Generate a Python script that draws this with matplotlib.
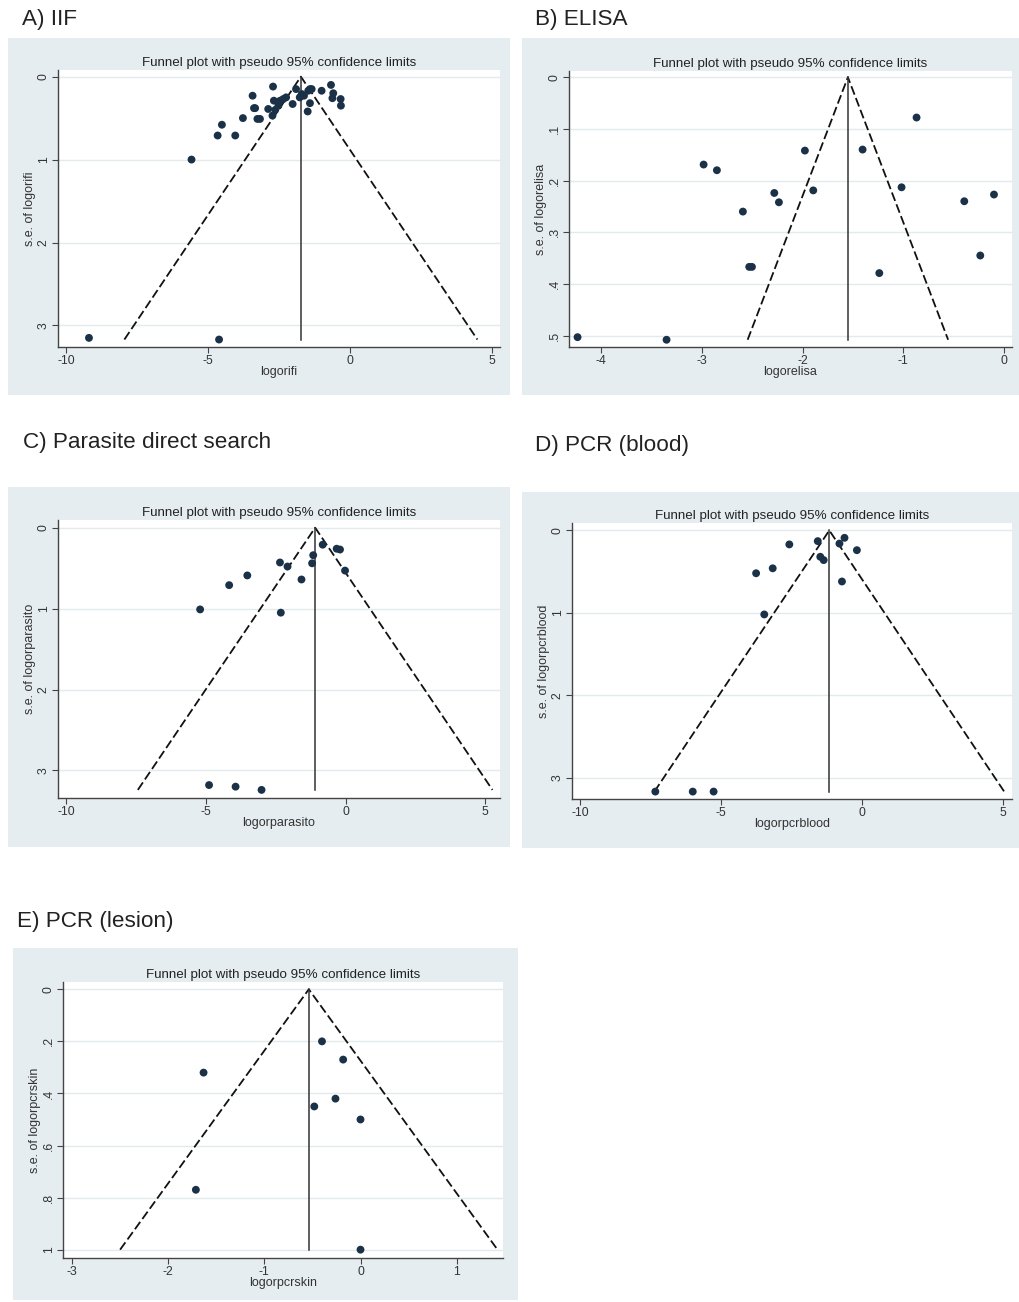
import matplotlib
matplotlib.use("Agg")
import matplotlib.pyplot as plt
from matplotlib.patches import Rectangle

plt.rcParams['font.family'] = ['Liberation Sans', 'DejaVu Sans']

W, H = 1020, 1302

# ----------------------------------
# Data
# ----------------------------------
iif_x = [-9.19, -4.61, -5.58, -4.66, -4.04, -4.51, -3.77, -3.26, -3.17, -3.38, -3.34,
         -3.43, -2.71, -2.88, -2.73, -2.68, -2.63, -2.52, -2.46, -2.35, -2.25, -2.02,
         -1.90, -1.77, -1.70, -1.62, -1.47, -1.41, -1.35, -1.41, -1.49, -1.00, -0.67,
         -0.59, -0.62, -0.33, -0.32]
iif_se = [3.15, 3.17, 1.00, 0.71, 0.71, 0.58, 0.50, 0.51, 0.51, 0.38, 0.38,
          0.23, 0.12, 0.39, 0.47, 0.29, 0.40, 0.35, 0.29, 0.27, 0.25, 0.33,
          0.15, 0.25, 0.21, 0.23, 0.17, 0.15, 0.15, 0.32, 0.42, 0.17, 0.10,
          0.20, 0.26, 0.27, 0.35]

elisa_x = [-4.235, -3.351, -2.983, -2.851, -2.593, -2.530, -2.503, -2.281, -2.235,
           -1.977, -1.894, -1.404, -1.238, -1.017, -0.868, -0.394, -0.235, -0.099]
elisa_se = [0.503, 0.508, 0.169, 0.180, 0.260, 0.367, 0.367, 0.224, 0.242,
            0.142, 0.219, 0.140, 0.379, 0.213, 0.078, 0.240, 0.345, 0.227]

paras_x = [-4.89, -3.94, -3.01, -5.21, -2.32, -4.17, -3.52, -2.35, -2.08, -1.58,
           -1.16, -1.20, -0.82, -0.32, -0.20, -0.02]
paras_se = [3.18, 3.20, 3.24, 1.01, 1.05, 0.71, 0.59, 0.43, 0.48, 0.64,
            0.34, 0.44, 0.21, 0.26, 0.27, 0.53]

blood_x = [-7.34, -6.01, -5.27, -3.47, -3.76, -3.17, -2.58, -1.57, -1.48, -1.36,
           -0.80, -0.62, -0.18, -0.71]
blood_se = [3.17, 3.17, 3.17, 1.02, 0.52, 0.46, 0.17, 0.13, 0.32, 0.36,
            0.16, 0.09, 0.24, 0.62]

skin_x = [-0.40, -0.18, -0.26, -0.48, 0.00, -1.63, -1.71, 0.00]
skin_se = [0.20, 0.27, 0.42, 0.45, 0.50, 0.32, 0.77, 1.00]

panel_titles = ["A) IIF", "B) ELISA", "C) Parasite direct search", "D) PCR (blood)", "E) PCR (lesion)"]
var_names = ["logorifi", "logorelisa", "logorparasito", "logorpcrblood", "logorpcrskin"]
pooled = [-1.73, -1.55, -1.09, -1.16, -0.537]

xticks_all = [[-10, -5, 0, 5], [-4, -3, -2, -1, 0], [-10, -5, 0, 5], [-10, -5, 0, 5], [-3, -2, -1, 0, 1]]
yticks_all = [[0, 1, 2, 3], [0, .1, .2, .3, .4, .5], [0, 1, 2, 3], [0, 1, 2, 3], [0, .2, .4, .6, .8, 1]]
yticklabels_all = [["0", "1", "2", "3"], ["0", ".1", ".2", ".3", ".4", ".5"], ["0", "1", "2", "3"],
                   ["0", "1", "2", "3"], ["0", ".2", ".4", ".6", ".8", "1"]]

xs = [iif_x, elisa_x, paras_x, blood_x, skin_x]
ses = [iif_se, elisa_se, paras_se, blood_se, skin_se]

# ----------------------------------
# Layout (pixels in the 1020x1302 picture)
# ----------------------------------
boxes = [(8, 38, 502, 357), (522, 38, 498, 357), (8, 487, 502, 360), (522, 492, 498, 356), (13, 948, 505, 352)]
axes_px = [(58, 70, 442, 277), (569, 71, 443, 276), (58, 520, 442, 278), (572, 523, 440, 276), (63, 982, 440, 276)]
title_px = [(22, 20), (535, 20), (23, 443), (535, 445), (17, 922)]
xlims = [(-10.28, 5.28), (-4.32, 0.08), (-10.3, 5.53), (-10.3, 5.33), (-3.09, 1.48)]
ylims = [(3.26, -0.08), (0.522, -0.012), (3.34, -0.095), (3.26, -0.09), (1.032, -0.028)]

BG = '#e6edf0'
GRID = '#e3eaec'
DOT = '#1b3148'


def frac(x, y, w, h):
    return [x / W, 1 - (y + h) / H, w / W, h / H]


fig = plt.figure(figsize=(W / 100, H / 100), dpi=100)
fig.patch.set_facecolor('white')

for i in range(5):
    bx, by, bw, bh = boxes[i]
    fig.add_artist(Rectangle((bx / W, 1 - (by + bh) / H), bw / W, bh / H,
                             transform=fig.transFigure, facecolor=BG, edgecolor='none', zorder=0))
    tx, ty = title_px[i]
    fig.text(tx / W, 1 - ty / H, panel_titles[i], fontsize=16.2, color='#222222', va='center', ha='left')

    ax = fig.add_axes(frac(*axes_px[i]))
    ax.set_facecolor('white')
    ax.set_xlim(*xlims[i])
    ax.set_ylim(*ylims[i])

    # grid lines at y ticks
    for yt in yticks_all[i]:
        ax.axhline(yt, color=GRID, lw=1.0, zorder=1)

    se_max = max(ses[i])
    p = pooled[i]
    ax.plot([p - 1.96 * se_max, p, p + 1.96 * se_max], [se_max, 0, se_max],
            color='#111111', lw=1.3, linestyle=(0, (5, 2.0)), zorder=2)
    ax.plot([p, p], [0, se_max], color='#333333', lw=1.1, zorder=2)
    ax.scatter(xs[i], ses[i], s=32, color=DOT, edgecolors='none', zorder=3)

    ax.set_xticks(xticks_all[i])
    ax.set_xticklabels([str(t) for t in xticks_all[i]])
    ax.set_yticks(yticks_all[i])
    ax.set_yticklabels(yticklabels_all[i], rotation=90, va='center')
    ax.tick_params(axis='both', length=4, width=0.8, color='#444444', labelsize=8.8, labelcolor='#333333', pad=2)

    for s in ['top', 'right']:
        ax.spines[s].set_visible(False)
    for s in ['left', 'bottom']:
        ax.spines[s].set_color('#444444')
        ax.spines[s].set_linewidth(1.0)

    ax.set_xlabel(var_names[i], fontsize=9, color='#333333', labelpad=-1)
    ax.set_ylabel("s.e. of " + var_names[i], fontsize=9, color='#333333', labelpad=1)
    ax.set_title("Funnel plot with pseudo 95% confidence limits", fontsize=9.6, color='#222222', pad=3)

fig.savefig("out.png", dpi=100)
